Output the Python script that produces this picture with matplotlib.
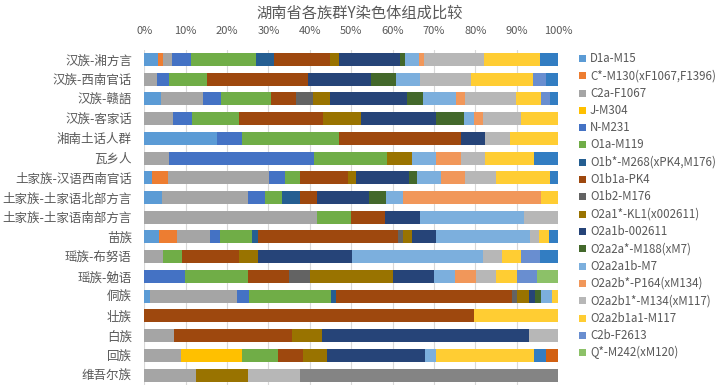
import matplotlib
matplotlib.use("Agg")
import matplotlib.pyplot as plt
from matplotlib.patches import Rectangle
import numpy as np

plt.rcParams['font.family'] = ['Noto Sans CJK SC', 'DejaVu Sans']

categories = ["汉族-湘方言", "汉族-西南官话", "汉族-赣語", "汉族-客家话", "湘南土话人群",
              "瓦乡人", "土家族-汉语西南官话", "土家族-土家语北部方言", "土家族-土家语南部方言",
              "苗族", "瑶族-布努语", "瑶族-勉语", "侗族", "壮族", "白族", "回族", "维吾尔族"]

series_names = ["D1a-M15", "C*-M130(xF1067,F1396)", "C2a-F1067", "J-M304", "N-M231",
                "O1a-M119", "O1b*-M268(xPK4,M176)", "O1b1a-PK4", "O1b2-M176",
                "O2a1*-KL1(x002611)", "O2a1b-002611", "O2a2a*-M188(xM7)", "O2a2a1b-M7",
                "O2a2b*-P164(xM134)", "O2a2b1*-M134(xM117)", "O2a2b1a1-M117",
                "C2b-F2613", "Q*-M242(xM120)", "其他-1", "其他-2", "其他-3"]

colors = ["#5B9BD5", "#ED7D31", "#A5A5A5", "#FFC000", "#4472C4", "#70AD47", "#255E91",
          "#9E480E", "#636363", "#997300", "#264478", "#43682B", "#7CAFDD", "#F1975A",
          "#B7B7B7", "#FFCD33", "#698ED0", "#8CC168", "#327DC2", "#D26012", "#848484"]

D1a      = [3.2, 0, 4.0, 0, 17.5, 0, 1.8, 4.2, 0, 3.4, 0, 0, 1.4, 0, 0, 0, 0]
C_M130   = [1.3, 0, 0, 0, 0, 0, 3.9, 0, 0, 4.5, 0, 0, 0, 0, 0, 0, 0]
C2a      = [2.1, 3.0, 10.2, 6.8, 0, 5.9, 24.4, 20.7, 41.6, 8.0, 4.5, 0, 21.0, 0, 7.1, 8.8, 12.5]
J        = [0, 0, 0, 0, 0, 0, 0, 0, 0, 0, 0, 0, 0, 0, 0, 14.7, 0]
N        = [4.6, 3.0, 4.1, 4.6, 6.0, 35.1, 3.7, 4.3, 0, 2.4, 0, 9.9, 2.9, 0, 0, 0, 0]
O1a      = [15.8, 9.1, 12.2, 11.4, 23.4, 17.6, 3.8, 4.1, 8.3, 7.7, 4.5, 15.1, 19.6, 0, 0, 8.8, 0]
O1b_M268 = [4.3, 0, 0, 0, 0, 0, 0, 4.2, 0, 1.3, 0, 0, 1.4, 0, 0, 0, 0]
O1b1a    = [13.4, 24.2, 6.0, 20.2, 29.3, 0, 11.4, 4.2, 8.2, 33.8, 13.8, 10.0, 42.2, 79.8, 28.6, 5.9, 0]
O1b2     = [0, 0, 4.0, 0, 0, 0, 0, 0, 0, 1.3, 0, 5.0, 1.3, 0, 0, 0, 0]
O2a1_KL1 = [2.3, 0, 4.0, 9.1, 0, 6.0, 1.9, 0, 0, 2.2, 4.5, 20.0, 2.9, 0, 7.1, 5.8, 12.5]
O2a1b    = [14.6, 15.2, 18.5, 18.1, 5.8, 0, 13.0, 12.4, 8.3, 5.6, 22.6, 9.9, 1.4, 0, 50.0, 23.6, 0]
O2a2a    = [1.1, 6.0, 4.0, 6.8, 0, 0, 1.9, 4.1, 0, 0, 0, 0, 1.4, 0, 0, 0, 0]
O2a2a1b  = [3.4, 5.9, 8.0, 2.4, 0, 5.8, 5.6, 4.3, 25.0, 22.8, 31.6, 5.1, 2.8, 0, 0, 2.8, 0]
O2a2b    = [1.2, 0, 2.1, 2.1, 0, 5.9, 5.8, 33.2, 0, 0, 0, 4.9, 0, 0, 0, 0, 0]
O2a2b1   = [14.5, 12.2, 12.2, 9.2, 6.0, 5.8, 7.5, 0, 8.3, 2.2, 4.6, 5.0, 0, 0, 7.1, 0, 12.5]
O2a2b1a1 = [13.6, 15.0, 6.0, 8.9, 11.6, 11.9, 13.1, 4.1, 0, 2.3, 4.5, 4.9, 1.4, 20.2, 0, 23.6, 0]
C_F      = [0, 3.1, 2.2, 0, 0, 0, 0, 0, 0, 0, 4.6, 5.0, 0, 0, 0, 0, 0]
Q_M242   = [0, 0, 0, 0, 0, 0, 0, 0, 0, 0, 0, 5.0, 0, 0, 0, 0, 0]
other1   = [4.3, 2.9, 1.9, 0, 0, 5.7, 1.9, 0, 0, 2.2, 4.4, 0, 0, 0, 0, 2.8, 0]
other2   = [0, 0, 0, 0, 0, 0, 0, 0, 0, 0, 0, 0, 0, 0, 0, 2.9, 0]
other3   = [0, 0, 0, 0, 0, 0, 0, 0, 0, 0, 0, 0, 0, 0, 0, 0, 62.5]

series_values = [D1a, C_M130, C2a, J, N, O1a, O1b_M268, O1b1a, O1b2, O2a1_KL1, O2a1b,
                 O2a2a, O2a2a1b, O2a2b, O2a2b1, O2a2b1a1, C_F, Q_M242, other1, other2, other3]
legend_count = 18

data = np.array(series_values, dtype=float)
data = data / data.sum(axis=0, keepdims=True)  # 100% stacked

W, H = 720, 385
fig = plt.figure(figsize=(W / 100, H / 100), dpi=100)
fig.patch.set_facecolor("white")

ax_left, ax_right, ax_top, ax_bottom = 144.4, 558.0, 49.5, 385.0
ax = fig.add_axes([ax_left / W, 1 - ax_bottom / H, (ax_right - ax_left) / W, (ax_bottom - ax_top) / H])

y = np.arange(len(categories))
left = np.zeros(len(categories))
for vals, col in zip(data, colors):
    ax.barh(y, vals, left=left, height=0.66, color=col, linewidth=0)
    left += vals

ax.set_xlim(0, 1)
ax.set_ylim(len(categories) - 0.5, -0.5)
ax.set_xticks(np.linspace(0, 1, 11))
ax.set_xticklabels([f"{int(round(v * 100))}%" for v in np.linspace(0, 1, 11)])
ax.xaxis.tick_top()
ax.tick_params(axis='x', length=0, pad=10, labelsize=8, labelcolor="#595959")
ax.set_yticks(y)
ax.set_yticklabels(categories)
ax.tick_params(axis='y', length=0, pad=9, labelsize=9, labelcolor="#595959")
for s in ax.spines.values():
    s.set_visible(False)
ax.set_axisbelow(True)
ax.grid(axis='x', color="#D9D9D9", linewidth=0.8)

fig.text(360 / W, 1 - 13 / H, "湖南省各族群Y染色体组成比较", ha='center', va='center',
         fontsize=11, color="#595959")

# legend (first entries, as visible in the chart)
y0, dy = 58.5, 17.3
for i in range(legend_count):
    yc = y0 + i * dy
    fig.add_artist(Rectangle((578.5 / W, 1 - (yc + 3.5) / H), 7 / W, 7 / H,
                             transform=fig.transFigure, color=colors[i], linewidth=0))
    fig.text(590 / W, 1 - yc / H, series_names[i], ha='left', va='center',
             fontsize=8.3, color="#595959")

fig.savefig("out.png", dpi=100)
